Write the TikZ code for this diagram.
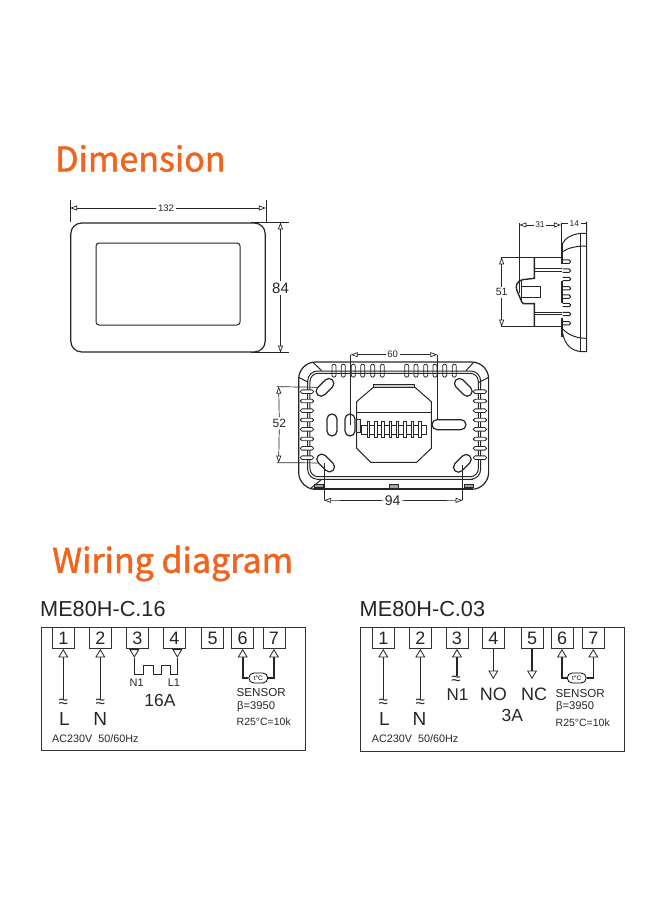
\documentclass[tikz,border=0pt]{standalone}
\usepackage{fontspec}
\setmainfont{Liberation Sans}
\newfontfamily\titlefont[FakeBold=1.4]{Noto Sans CJK SC}
\usetikzlibrary{arrows.meta}
\usetikzlibrary{shapes.misc}
\newcommand{\fs}[1]{\fontsize{#1}{#1}\selectfont}
\definecolor{headingcolor}{RGB}{240,100,30}
\tikzset{
  part/.style={draw=black!85,line width=1pt},
  slot/.style={draw=black!85,line width=0.8pt,rounded rectangle,inner sep=0pt},
  dimline/.style={draw=black!85,line width=0.7pt},
  dimtip/.style={dimline,-{Triangle[open,length=7pt,width=5pt]}},
  dimtext/.style={inner sep=1.5pt,fill=white,text=black!85},
  heading/.style={text=headingcolor,font=\titlefont\fs{34},inner sep=0pt,anchor=west},
  model/.style={font=\fs{21.7},inner sep=0pt,anchor=west,text=black!85},
  frame/.style={draw=black!80,line width=1pt,inner sep=0pt},
  terminal/.style={draw=black!80,line width=0.9pt,minimum width=22pt,minimum height=21pt,inner sep=0pt,font=\fs{18},text=black!85},
  wire/.style={draw=black!85,line width=1.6pt},
  tipwire/.style={wire,-{Triangle[open,length=8.5pt,width=10pt,line width=0.8pt]}},
  phase/.style={font=\fs{19},inner sep=0pt,text=black!85},
  wave/.style={font=\fs{17},inner sep=0pt,text=black!85},
  pinlabel/.style={font=\fs{11},inner sep=0pt,text=black!85},
  note/.style={inner sep=0pt,anchor=west,text=black!85},
  sensor/.style={draw=black,line width=0.8pt,rounded rectangle,minimum width=19pt,minimum height=10pt,inner sep=0pt,font=\fs{6.5},fill=white},
}
\begin{document}
\begin{tikzpicture}[x=1pt,y=-1pt]
\useasboundingbox (0,0) rectangle (660,900);

\node [heading] (dimension) at (55,158.5) {Dimension};
\node [heading] (wiring) at (52,563.5) {Wiring diagram};

% front view
\node [part,line width=1.2pt,rounded corners=11pt,minimum width=194.5pt,minimum height=129pt,inner sep=0pt] (front) at (168,287.5) {};
\node [part,rounded corners=3pt,minimum width=144pt,minimum height=82pt,inner sep=0pt] (screen) at (168,284) {};
\node [dimtext,font=\fs{9.5}] (w132) at (166,208) {132};
\node [dimtext,font=\fs{15}] (h84) at (280.5,288) {84};
\draw [dimline] (front.north west) -- ++(0,-22);
\draw [dimline] (front.north east) -- ++(0,-22);
\draw [dimline] (front.north east) ++(-15,0) -- ++(38,0);
\draw [dimline] (front.south east) ++(-15,0) -- ++(38,0);
\draw [dimtip] (w132) -- (w132 -| front.west);
\draw [dimtip] (w132) -- (w132 -| front.east);
\draw [dimtip] (h84) -- (h84 |- front.north);
\draw [dimtip] (h84) -- (h84 |- front.south);

% side view
\begin{scope}[shift={(480,205)},x=0.3333pt,y=-0.3333pt]
\draw [part] (320,50) -- (320,440) -- (305,440) .. controls (275,438) and (255,420) .. (248,385);
\draw [part] (320,85) -- (305,85) .. controls (275,87) and (255,100) .. (248,115);
\draw [part] (303,85) -- (303,440);
\draw [part] (248,140) .. controls (265,128) and (290,123) .. (320,123);
\draw [part] (248,372) .. controls (265,390) and (290,400) .. (320,400);
\draw [part,line width=1.8pt] (245,115) -- (245,178);
\draw [part,line width=1.8pt] (245,228) -- (245,295);
\draw [part,line width=1.8pt] (245,340) -- (245,395);
\draw [dimline] (245,55) -- (245,115);
\foreach \yy in {170,197,222,250,275,300,327,355}
  \draw [part,rounded corners=1.5pt] (248,\yy-5) -- (272,\yy-5) -- (272,\yy+5) -- (248,\yy+5);
\draw [part,line width=1.4pt] (163,157) -- (163,220) -- (128,224) .. controls (112,228) and (106,240) .. (110,255) -- (125,290) -- (130,296) -- (163,296) -- (163,365);
\draw [part] (163,192) -- (245,192);
\draw [part] (163,200) -- (245,200);
\draw [part] (163,322) -- (245,322);
\draw [part] (163,329) -- (245,329);
\draw [part] (125,245) -- (182,245) -- (182,278) -- (125,278);
\draw [dimline] (125,224) -- (125,290);
\draw [dimline] (118,55) -- (118,265);
\draw [dimline] (62,157) -- (245,157);
\draw [dimline] (62,365) -- (245,365);
\draw [dimline] (320,55) -- (245,55);
\node [dimtext,font=\fs{8.5}] (d31) at (180,60) {31};
\node [dimtext,font=\fs{8.5}] (d14) at (283,56) {14};
\node [dimtext,font=\fs{10.5}] (h51) at (65,262) {51};
\coordinate (l31) at (118,60);
\coordinate (r31) at (243,60);
\coordinate (t51) at (62,157);
\coordinate (b51) at (62,365);
\draw [dimtip] (d31) -- (l31);
\draw [dimtip] (d31) -- (r31);
\draw [dimtip] (h51) -- (t51 -| h51);
\draw [dimtip] (h51) -- (b51 -| h51);
\end{scope}

% back view
\begin{scope}[shift={(260,340)},x=0.3333pt,y=-0.3333pt]
\draw [part,line width=1.2pt,rounded corners=17pt] (116,66) rectangle (686,448);
\draw [part,rounded corners=10pt] (143,93) rectangle (662,418);
\draw [part,rounded corners=8pt] (150,100) rectangle (655,410);
\draw [part] (160,68) -- (185,92);
\draw [part] (116,112) -- (145,127);
\draw [part] (640,68) -- (618,92);
\draw [part] (686,112) -- (657,127);
\draw [part] (150,447) -- (185,418);
\draw [part] (175,420) -- (640,420);
\draw [part] (160,447) -- (640,447);
\foreach \xx in {222,250,280,308,338,367,440,468,497,525,554,583}
  \node [slot,minimum width=13pt,minimum height=4pt,rotate=90] at (\xx,92) {};
\foreach \yy in {155,183,212,240,268,297,325,353} {
  \node [slot,minimum width=13.5pt,minimum height=3.6pt,fill=white] at (141,\yy) {};
  \node [slot,minimum width=13.5pt,minimum height=3.6pt,fill=white] at (660,\yy) {};
}
\draw [part,fill=black!35] (165,434) rectangle (192,444);
\draw [part,fill=black!35] (390,434) rectangle (415,447);
\draw [part,fill=black!35] (614,434) rectangle (640,444);
% mounting holes
\node [slot,line width=1.2pt,minimum width=21pt,minimum height=10pt,rotate=45,fill=white] (holeA) at (195,142) {};
\node [slot,line width=1.2pt,minimum width=21pt,minimum height=10pt,rotate=-45,fill=white] (holeB) at (610,142) {};
\node [slot,line width=1.2pt,minimum width=21pt,minimum height=10pt,rotate=-45,fill=white] (holeC) at (197,369) {};
\node [slot,line width=1.2pt,minimum width=21pt,minimum height=10pt,rotate=45,fill=white] (holeD) at (607,370) {};
\node [slot,line width=1.2pt,minimum width=22pt,minimum height=10pt,rotate=90,fill=white] (holeE) at (216,255) {};
\node [slot,line width=1.2pt,minimum width=22pt,minimum height=10pt,rotate=90,fill=white] (holeF) at (270,255) {};
\node [slot,line width=1.2pt,minimum width=34pt,minimum height=10pt,fill=white] (holeG) at (567,254) {};
% terminal block
\draw [part] (340,142) -- (290,185) -- (290,325) -- (332,367) -- (470,367) -- (514,325) -- (514,185) -- (465,142) -- cycle;
\draw [part,fill=black!20] (340,133) rectangle (465,143);
\draw [part] (290,217) -- (514,217);
\draw [part,fill=black!10] (290,238) rectangle (302,277);
\draw [part] (305,257) rectangle (500,285);
\foreach \xx in {325,347,368,391,412,435,457,479}
  \draw [part,line width=0.8pt,fill=white] (\xx-4,243) rectangle (\xx+4,292);
\node [dimtext,font=\fs{9.5}] (w60) at (398,44) {60};
\node [dimtext,font=\fs{12}] (h52) at (58,250) {52};
\node [dimtext,font=\fs{14}] (w94) at (398,482) {94};
\coordinate (l60) at (272,44);
\coordinate (r60) at (532,44);
\coordinate (t52) at (56,140);
\coordinate (b52) at (56,368);
\coordinate (l94) at (192,481);
\coordinate (r94) at (608,481);
\draw [dimline] (l60) -- (272,255);
\draw [dimline] (r60) -- (532,240);
\draw [dimline] (50,140) -- (holeA);
\draw [dimline] (50,368) -- (holeC);
\draw [dimline] (l94) -- (192,368);
\draw [dimline] (r94) -- (608,375);
\draw [dimtip] (w60) -- (l60);
\draw [dimtip] (w60) -- (r60);
\draw [dimtip] (h52) -- (t52);
\draw [dimtip] (h52) -- (b52);
\draw [dimtip] (w94) -- (l94);
\draw [dimtip] (w94) -- (r94);
\end{scope}

% ME80H-C.16
\node [model] (modelA) at (40,609.5) {ME80H-C.16};
\node [frame,minimum width=264.5pt,minimum height=123.5pt] (boxA) at (173.5,689) {};
\node [terminal] (a1) at (63.3,638) {1};
\node [terminal] (a2) at (100.3,638) {2};
\node [terminal] (a3) at (137.3,638) {3};
\node [terminal] (a4) at (174.3,638) {4};
\node [terminal] (a5) at (212.7,638) {5};
\node [terminal] (a6) at (242.7,638) {6};
\node [terminal] (a7) at (274,638) {7};
\coordinate (ea1) at (63.3,699);
\coordinate (ea2) at (100.3,699);
\node [wave] (aw1) at (63.3,703.5) {≈};
\node [wave] (aw2) at (100.3,703.5) {≈};
\node [phase] (aL) at (64.5,719) {L};
\node [phase] (aN) at (100.3,719) {N};
\node [pinlabel] (aN1) at (136.7,683) {N1};
\node [pinlabel] (aL1) at (174,683) {L1};
\node [inner sep=0pt,font=\fs{17.5},text=black!85] (a16) at (160,700.5) {16A};
\node [sensor] (ta) at (258.3,678) {t°C};
\node [note,font=\fs{11.6}] (senA) at (236.5,692.5) {SENSOR};
\node [note,font=\fs{11.2}] (betaA) at (237,706.5) {β=3950};
\node [note,font=\fs{10.5}] (rA) at (236.5,722) {R25°C=10k};
\node [note,font=\fs{10.8}] (acA) at (52,739) {AC230V\ \ 50/60Hz};
\draw [tipwire] (ea1) -- (a1);
\draw [tipwire] (ea2) -- (a2);
\coordinate (pa3) at (134.3,657.7);
\coordinate (pa4) at (177.3,657.7);
\draw [tipwire,line width=0.9pt] (pa3 |- a3.south) -- (pa3);
\draw [tipwire,line width=0.9pt] (pa4 |- a4.south) -- (pa4);
\draw [wire,line width=1pt] (pa3) -- ++(0,16.6) -- ++(8.7,0) -- ++(0,-8.7) -- ++(10,0) -- ++(0,8.7) -- ++(8,0) -- ++(0,-8.7) -- ++(9.3,0) -- ++(0,8.7) -- (pa4 |- 0,674.3) -- (pa4);
\draw [tipwire,line width=1.8pt] (ta.west) -| (a6.south);
\draw [tipwire,line width=1.8pt] (ta.east) -| (a7.south);

% ME80H-C.03
\node [model] (modelB) at (359.5,609.5) {ME80H-C.03};
\node [frame,minimum width=264pt,minimum height=124.5pt] (boxB) at (492.3,689.5) {};
\node [terminal] (b1) at (383.3,638) {1};
\node [terminal] (b2) at (420.3,638) {2};
\node [terminal] (b3) at (457,638) {3};
\node [terminal] (b4) at (493.3,638) {4};
\node [terminal] (b5) at (532,638) {5};
\node [terminal] (b6) at (562,638) {6};
\node [terminal] (b7) at (593.3,638) {7};
\coordinate (eb1) at (383.3,699);
\coordinate (eb2) at (420.3,699);
\coordinate (eb3) at (457,675.5);
\node [wave] (bw1) at (383.3,703.5) {≈};
\node [wave] (bw2) at (420.3,703.5) {≈};
\node [wave] (bw3) at (456,680.5) {≈};
\node [phase] (bL) at (384.5,719) {L};
\node [phase] (bN) at (419.5,719) {N};
\node [phase,font=\fs{17}] (bN1) at (457.5,695) {N1};
\node [phase,font=\fs{18}] (bNO) at (493.3,694) {NO};
\node [phase,font=\fs{18}] (bNC) at (534,694) {NC};
\node [inner sep=0pt,font=\fs{17.5},text=black!85] (b3A) at (512.3,715) {3A};
\node [sensor] (tb) at (576.7,678) {t°C};
\node [note,font=\fs{11.6}] (senB) at (555.5,693) {SENSOR};
\node [note,font=\fs{11.2}] (betaB) at (556,707) {β=3950};
\node [note,font=\fs{10.5}] (rB) at (555.5,722.7) {R25°C=10k};
\node [note,font=\fs{10.8}] (acB) at (371.7,739) {AC230V\ \ 50/60Hz};
\coordinate (eb4) at (493.3,679);
\coordinate (eb5) at (532,679);
\draw [tipwire] (eb1) -- (b1);
\draw [tipwire] (eb2) -- (b2);
\draw [tipwire] (eb3) -- (b3);
\draw [tipwire] (b4) -- (eb4);
\draw [tipwire] (b5) -- (eb5);
\draw [tipwire] (tb.west) -| (b6.south);
\draw [tipwire] (tb.east) -| (b7.south);
\end{tikzpicture}
\end{document}
